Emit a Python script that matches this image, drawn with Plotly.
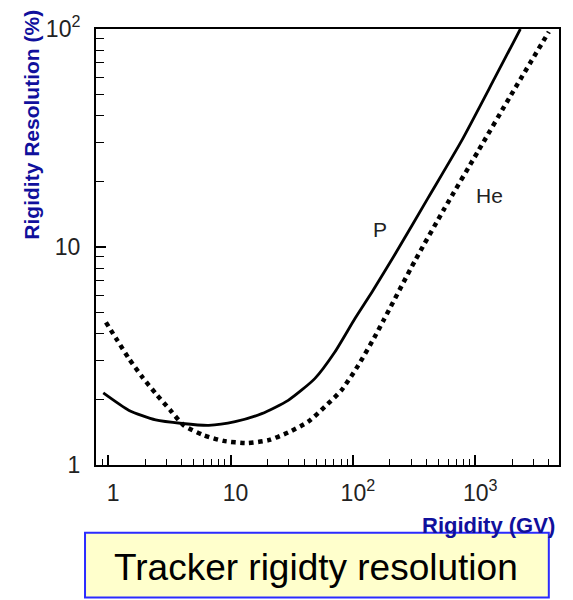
import numpy as np
import plotly.graph_objects as go

# Data (rigidity in GV, resolution in %)
p_rigidity = [0.911, 1.48, 2.44, 4.03, 6.62, 10.9, 18.0, 29.6, 48.8, 71, 104, 145.5, 221, 412, 769, 1438, 2340]
p_resolution = [2.14, 1.78, 1.61, 1.55, 1.52, 1.58, 1.72, 1.98, 2.49, 3.29, 4.7, 6.3, 9.26, 16.8, 30.5, 59.3, 100]

he_rigidity = [0.958, 1.19, 1.48, 1.90, 2.44, 3.23, 4.15, 6.03, 8.77, 13.6, 20.4, 29.6, 43.1, 58.9,
               80.5, 110, 150, 177.7, 321, 564, 1052, 1963, 4000]
he_resolution = [4.51, 3.72, 3.07, 2.53, 2.13, 1.78, 1.52, 1.37, 1.29, 1.26, 1.30, 1.41, 1.58, 1.85,
                 2.20, 2.85, 3.85, 4.6, 8.63, 15.1, 27.4, 49.8, 97]

x_major = [1, 10, 100, 1000]
x_major_text = ["1", "10", "10<sup>2</sup>", "10<sup>3</sup>"]
x_minor = [0.9, 2, 3, 4, 5, 6, 7, 8, 9, 20, 30, 40, 50, 60, 70, 80, 90,
           200, 300, 400, 500, 600, 700, 800, 900, 2000, 3000, 4000]
y_major = [1, 10, 100]
y_major_text = ["1", "10", "10<sup>2</sup>"]
y_minor = [2, 3, 4, 5, 6, 7, 8, 9, 20, 30, 40, 50, 60, 70, 80, 90]

BLUE = "#10109c"
FONT = "Liberation Sans, Arial, Helvetica, sans-serif"

fig = go.Figure()
fig.add_trace(go.Scatter(x=p_rigidity, y=p_resolution, mode="lines",
                         line=dict(color="black", width=2.8, shape="spline", smoothing=0.6),
                         name="P", showlegend=False, hoverinfo="skip"))
fig.add_trace(go.Scatter(x=he_rigidity, y=he_resolution, mode="lines",
                         line=dict(color="black", width=4.5, dash="dot", shape="spline", smoothing=0.6),
                         name="He", showlegend=False, hoverinfo="skip"))

fig.update_layout(
    width=573, height=600, autosize=False,
    margin=dict(l=96, r=13, t=27, b=135, pad=0),
    paper_bgcolor="white", plot_bgcolor="white",
    font=dict(family=FONT, color="#222222"),
    showlegend=False,
)

fig.update_xaxes(
    type="log", range=[-0.1, 3.685],
    showgrid=False, zeroline=False,
    showline=True, linecolor="black", linewidth=2, mirror=True,
    tickmode="array", tickvals=x_major, ticktext=x_major_text,
    ticks="inside", ticklen=10, tickwidth=1.5, tickcolor="black",
    tickfont=dict(size=23, family=FONT, color="#222222"),
    ticklabelstandoff=6, ticklabelshift=5,
    minor=dict(tickvals=x_minor, ticks="inside", ticklen=6, tickwidth=1.3, tickcolor="black", showgrid=False),
)
fig.update_yaxes(
    type="log", range=[0, 2],
    showgrid=False, zeroline=False,
    showline=True, linecolor="black", linewidth=2, mirror=True,
    tickmode="array", tickvals=y_major, ticktext=y_major_text,
    ticks="inside", ticklen=10, tickwidth=1.5, tickcolor="black",
    tickfont=dict(size=23, family=FONT, color="#222222"),
    ticklabelstandoff=9,
    minor=dict(tickvals=y_minor, ticks="inside", ticklen=8, tickwidth=1.3, tickcolor="black", showgrid=False),
)

# Curve labels
fig.add_annotation(x=np.log10(166), y=np.log10(12.0), xref="x", yref="y", text="P",
                   showarrow=False, font=dict(size=21, family=FONT, color="#222222"))
fig.add_annotation(x=np.log10(1309), y=np.log10(17.3), xref="x", yref="y", text="He",
                   showarrow=False, font=dict(size=21, family=FONT, color="#222222"))

# Axis titles
fig.add_annotation(x=-0.140, y=0.781, xref="paper", yref="paper", text="<b>Rigidity Resolution (%)</b>",
                   textangle=-90, showarrow=False, xanchor="center", yanchor="middle",
                   font=dict(size=21, family=FONT, color=BLUE))
fig.add_annotation(x=0.9957, y=-0.139, xref="paper", yref="paper", text="<b>Rigidity (GV)</b>",
                   showarrow=False, xanchor="right", yanchor="middle",
                   font=dict(size=22, family=FONT, color=BLUE))

# Caption box
fig.add_shape(type="rect", xref="paper", yref="paper",
              x0=-0.0237, x1=0.978, y0=-0.3037, y1=-0.1553,
              line=dict(color="#2b2bff", width=2), fillcolor="#ffffcc", layer="above")
fig.add_annotation(x=0.476, y=-0.235, xref="paper", yref="paper", text="Tracker rigidty resolution",
                   showarrow=False, xanchor="center", yanchor="middle",
                   font=dict(size=37, family=FONT, color="black"))

fig.write_html("out.html")
